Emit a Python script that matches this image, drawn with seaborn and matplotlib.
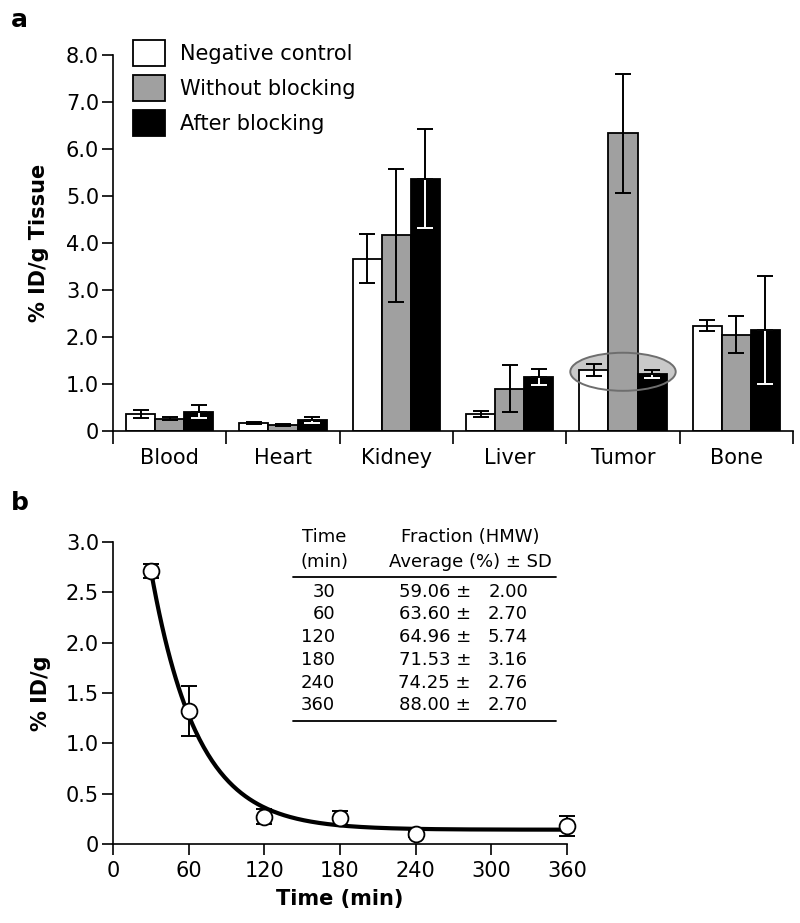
import numpy as np
import pandas as pd
import matplotlib
matplotlib.use("Agg")
import matplotlib.pyplot as plt
import seaborn as sns
from matplotlib.patches import Patch, Ellipse
from matplotlib.lines import Line2D

# ---- panel a data ----
organs = ["Blood", "Heart", "Kidney", "Liver", "Tumor", "Bone"]
groups = ["Negative control", "Without blocking", "After blocking"]
neg_mean = [0.36, 0.17, 3.67, 0.36, 1.30, 2.24]
neg_sd = [0.09, 0.02, 0.52, 0.07, 0.12, 0.12]
wob_mean = [0.26, 0.13, 4.16, 0.90, 6.33, 2.05]
wob_sd = [0.03, 0.02, 1.41, 0.50, 1.27, 0.40]
ab_mean = [0.41, 0.23, 5.37, 1.15, 1.21, 2.15]
ab_sd = [0.14, 0.06, 1.05, 0.17, 0.08, 1.15]
bar_colors = ["white", "#a0a0a0", "black"]

# ---- panel b data ----
times = [30, 60, 120, 180, 240, 360]
uptake = [2.71, 1.32, 0.27, 0.26, 0.10, 0.18]
uptake_sd = [0.07, 0.25, 0.075, 0.07, 0.03, 0.10]

table_time = [30, 60, 120, 180, 240, 360]
table_mean = [59.06, 63.60, 64.96, 71.53, 74.25, 88.00]
table_sd = [2.00, 2.70, 5.74, 3.16, 2.76, 2.70]

sns.set_style("ticks")
plt.rcParams["font.family"] = ["DejaVu Sans"]
plt.rcParams["font.size"] = 15
plt.rcParams["axes.linewidth"] = 1.2
for key in ("text.color", "axes.labelcolor", "axes.edgecolor",
            "xtick.color", "ytick.color"):
    plt.rcParams[key] = "black"

W, H = 800, 923


def px(x, y):
    return x / W, 1 - y / H


fig = plt.figure(figsize=(8, 9.23), dpi=100)
ax_a = fig.add_axes([113 / W, 1 - 431 / H, 680 / W, 376 / H])
ax_b = fig.add_axes([113 / W, 1 - 844 / H, 454 / W, 302 / H])

# ================= panel a =================
df = pd.DataFrame({
    "organ": organs * 3,
    "group": np.repeat(groups, len(organs)),
    "value": neg_mean + wob_mean + ab_mean,
})
sns.barplot(data=df, x="organ", y="value", hue="group", hue_order=groups,
            order=organs, palette=bar_colors, saturation=1, width=0.77,
            edgecolor="black", linewidth=1.3, errorbar=None, legend=False,
            ax=ax_a, zorder=2)

sds = [neg_sd, wob_sd, ab_sd]
bar_conts = list(ax_a.containers)
for gi, cont in enumerate(bar_conts):
    xs = [p.get_x() + p.get_width() / 2 for p in cont.patches]
    tops = [p.get_height() for p in cont.patches]
    sd = np.array(sds[gi])
    if gi == 2:
        # white lower half inside the black bar, black upper half
        ax_a.errorbar(xs, tops, yerr=[sd, np.zeros_like(sd)], fmt="none",
                      ecolor="white", elinewidth=1.4, capsize=6, capthick=1.4, zorder=4)
        ax_a.errorbar(xs, tops, yerr=[np.zeros_like(sd), sd], fmt="none",
                      ecolor="black", elinewidth=1.4, capsize=6, capthick=1.4, zorder=5)
    else:
        ax_a.errorbar(xs, tops, yerr=sd, fmt="none", ecolor="black",
                      elinewidth=1.4, capsize=6, capthick=1.4, zorder=4)

# highlight ellipse around tumor
ti = organs.index("Tumor")
ax_a.add_patch(Ellipse((ti, 1.26), 0.93, 0.81, facecolor="#c9c9c9",
                       edgecolor="none", zorder=1))
ax_a.add_patch(Ellipse((ti, 1.26), 0.93, 0.81, facecolor="none",
                       edgecolor="#6e6e6e", lw=1.4, zorder=6))

ax_a.set_xlim(-0.5, len(organs) - 0.5)
ax_a.set_ylim(0, 8)
ax_a.set_yticks(range(0, 9))
ax_a.set_yticklabels(["0"] + [f"{v:.1f}" for v in range(1, 9)])
ax_a.set_xticks(range(len(organs)))
ax_a.set_xticklabels(organs)
ax_a.set_xticks(np.arange(-0.5, len(organs), 1.0), minor=True)
ax_a.tick_params(axis="x", which="major", length=0, pad=12)
ax_a.tick_params(axis="x", which="minor", length=9, width=1.2, direction="out")
ax_a.tick_params(axis="y", length=8, width=1.2, pad=2)
ax_a.set_xlabel("")
ax_a.set_ylabel("% ID/g Tissue", fontweight="bold", labelpad=12)
sns.despine(ax=ax_a)
ax_a.spines["left"].set_bounds(0, 8)

handles = [Patch(facecolor=c, edgecolor="black", lw=1.3) for c in bar_colors]
ax_a.legend(handles, groups, loc="upper left", bbox_to_anchor=px(133, 40),
            bbox_transform=fig.transFigure, frameon=False, fontsize=15,
            handlelength=1.55, handleheight=1.55, labelspacing=0.42,
            handletextpad=0.7, borderpad=0, borderaxespad=0)

# ================= panel b =================
b_df = pd.DataFrame({"time": times, "uptake": uptake})

# mono-exponential fit through the measured points
best = None
for k in np.linspace(0.005, 0.1, 3000):
    X = np.column_stack([np.exp(-k * np.array(times)), np.ones(len(times))])
    coef, *_ = np.linalg.lstsq(X, np.array(uptake), rcond=None)
    sse = np.sum((X @ coef - np.array(uptake)) ** 2)
    if best is None or sse < best[0]:
        best = (sse, k, coef)
_, k_fit, (a_fit, c_fit) = best
t_fit = np.linspace(times[0], times[-1], 300)
fit_df = pd.DataFrame({"time": t_fit, "uptake": a_fit * np.exp(-k_fit * t_fit) + c_fit})

sns.lineplot(data=fit_df, x="time", y="uptake", color="black", lw=3,
             ax=ax_b, zorder=3, clip_on=False)
ax_b.errorbar(times, uptake, yerr=uptake_sd, fmt="none", ecolor="black",
              elinewidth=1.4, capsize=6, capthick=1.4, zorder=2, clip_on=False)
sns.scatterplot(data=b_df, x="time", y="uptake", s=130, facecolor="white",
                edgecolor="black", linewidth=1.3, ax=ax_b, zorder=5, clip_on=False)

ax_b.set_xlim(0, 360)
ax_b.set_ylim(0, 3)
ax_b.set_xticks(range(0, 361, 60))
ax_b.set_yticks(np.arange(0, 3.01, 0.5))
ax_b.set_yticklabels(["0"] + [f"{v:.1f}" for v in np.arange(0.5, 3.01, 0.5)])
ax_b.tick_params(axis="both", length=8, width=1.2)
ax_b.tick_params(axis="y", pad=2)
ax_b.tick_params(axis="x", pad=4)
ax_b.set_xlabel("Time (min)", fontweight="bold", labelpad=6)
ax_b.set_ylabel("% ID/g", fontweight="bold", labelpad=11)
sns.despine(ax=ax_b)

# inset table
tfs = 13
fig.text(*px(302, 537), "Time", fontsize=tfs, ha="left", va="center")
fig.text(*px(300, 562), "(min)", fontsize=tfs, ha="left", va="center")
fig.text(*px(470, 537), "Fraction (HMW)", fontsize=tfs, ha="center", va="center")
fig.text(*px(470, 562), "Average (%) ± SD", fontsize=tfs, ha="center", va="center")
row_y = [592, 614, 637, 660, 683, 705]
for y, t, m, s in zip(row_y, table_time, table_mean, table_sd):
    fig.text(*px(335, y), f"{t}", fontsize=tfs, ha="right", va="center")
    fig.text(*px(471, y), f"{m:.2f} \u00b1", fontsize=tfs, ha="right", va="center")
    fig.text(*px(528, y), f"{s:.2f}", fontsize=tfs, ha="right", va="center")
for y in (577, 721):
    x0, yy = px(293, y)
    x1, _ = px(556, y)
    fig.add_artist(Line2D([x0, x1], [yy, yy], color="black", lw=1.3,
                          transform=fig.transFigure))

# panel letters
fig.text(*px(11, 20), "a", fontsize=18, fontweight="bold", va="center")
fig.text(*px(11, 503), "b", fontsize=18, fontweight="bold", va="center")

fig.savefig("out.png", dpi=100)
